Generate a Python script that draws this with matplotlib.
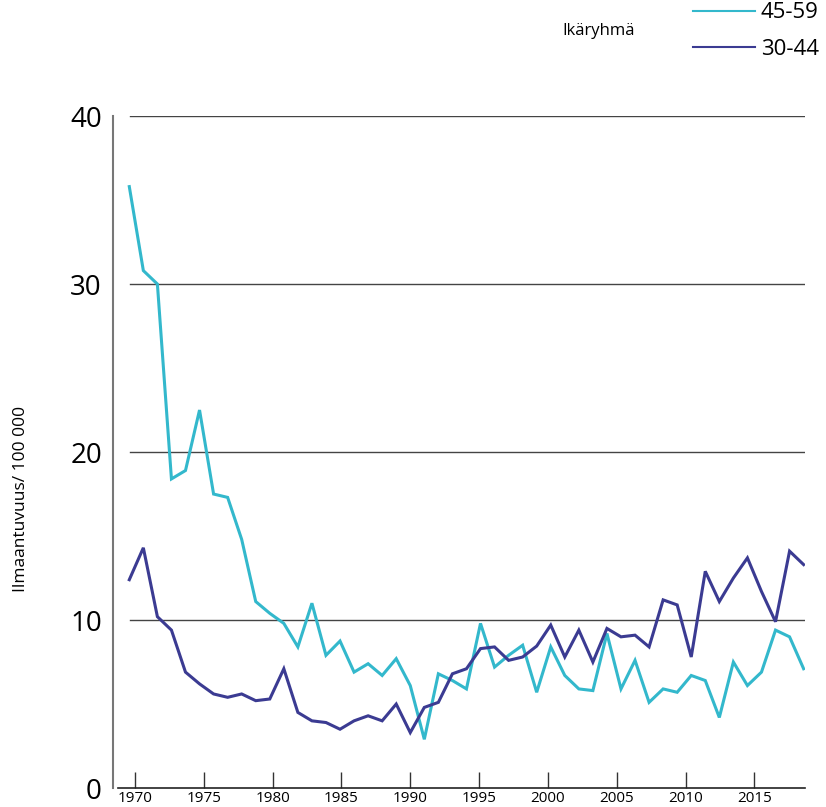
import matplotlib
matplotlib.use("Agg")
import matplotlib.pyplot as plt
import numpy as np

plt.rcParams["font.family"] = ["Open Sans", "DejaVu Sans"]

years = np.arange(1970, 2019)

# incidence per 100 000, age group 45-59
age_45_59 = [35.8, 30.8, 30.0, 18.4, 18.9, 22.5, 17.5, 17.3, 14.8, 11.1,
             10.4, 9.8, 8.4, 11.0, 7.9, 8.75, 6.9, 7.4, 6.7, 7.7,
             6.1, 2.9, 6.8, 6.4, 5.9, 9.8, 7.2, 7.9, 8.5, 5.7,
             8.4, 6.7, 5.9, 5.8, 9.2, 5.9, 7.6, 5.1, 5.9, 5.7,
             6.7, 6.4, 4.2, 7.5, 6.1, 6.9, 9.4, 9.0, 7.1]

# incidence per 100 000, age group 30-44
age_30_44 = [12.4, 14.3, 10.2, 9.4, 6.9, 6.2, 5.6, 5.4, 5.6, 5.2,
             5.3, 7.1, 4.5, 4.0, 3.9, 3.5, 4.0, 4.3, 4.0, 5.0,
             3.3, 4.8, 5.1, 6.8, 7.1, 8.3, 8.4, 7.6, 7.8, 8.45,
             9.7, 7.8, 9.4, 7.5, 9.5, 9.0, 9.1, 8.4, 11.2, 10.9,
             7.8, 12.9, 11.1, 12.5, 13.7, 11.7, 9.9, 14.1, 13.3]

tick_labels = ["1970", "1975", "1980", "1985", "1990",
               "1995", "2000", "2005", "2010", "2015"]
y_ticks = [0, 10, 20, 30, 40]

COL_45 = "#33b8cc"
COL_30 = "#3b3b92"

fig = plt.figure(figsize=(8.26, 8.07), dpi=100)
ax = fig.add_axes([0.1368, 0.0235, 0.8378, 0.8327])

ax.plot(years, age_45_59, color=COL_45, linewidth=2.2, zorder=3,
        solid_joinstyle="miter")
ax.plot(years, age_30_44, color=COL_30, linewidth=2.2, zorder=3,
        solid_joinstyle="miter")

ax.set_xlim(1968.84, 2018.1)
ax.set_ylim(0, 40)

# horizontal reference lines
for y in y_ticks[1:]:
    ax.axhline(y, xmin=0.0246, xmax=1.0, color="#444444", linewidth=1.0, zorder=1)

for side in ("top", "right", "bottom"):
    ax.spines[side].set_visible(False)
ax.spines["left"].set_color("#777777")
ax.spines["left"].set_linewidth(1.5)
ax.axhline(0, xmin=0.007, xmax=1.0, color="#222222", linewidth=1.2,
           clip_on=False, zorder=2)

# x ticks (slightly off the data years, as in the original)
tick_pos = 1970.4 + 4.9 * np.arange(len(tick_labels))
ax.set_xticks(tick_pos)
ax.set_xticklabels(tick_labels)
ax.tick_params(axis="x", direction="in", length=11.5, width=1.0,
               color="#333333", labelsize=11, pad=2)

ax.set_yticks(y_ticks)
ax.set_yticklabels([str(v) for v in y_ticks])
ax.tick_params(axis="y", length=0, labelsize=20, pad=8)

ax.set_ylabel("Ilmaantuvuus/ 100 000", fontsize=12.5)
ax.yaxis.set_label_coords(-0.122, 0.43)

# legend top right
handles = [plt.Line2D([], [], color=COL_45, linewidth=1.5),
           plt.Line2D([], [], color=COL_30, linewidth=1.5)]
fig.legend(handles, ["45-59", "30-44"], loc="upper left",
           bbox_to_anchor=(0.839, 0.997), frameon=False, fontsize=16,
           handlelength=2.8, handletextpad=0.25, labelspacing=0.7,
           borderpad=0, borderaxespad=0)
fig.text(0.681, 0.962, "Ikäryhmä", fontsize=12, ha="left", va="center")

fig.savefig("out.png", dpi=100)
